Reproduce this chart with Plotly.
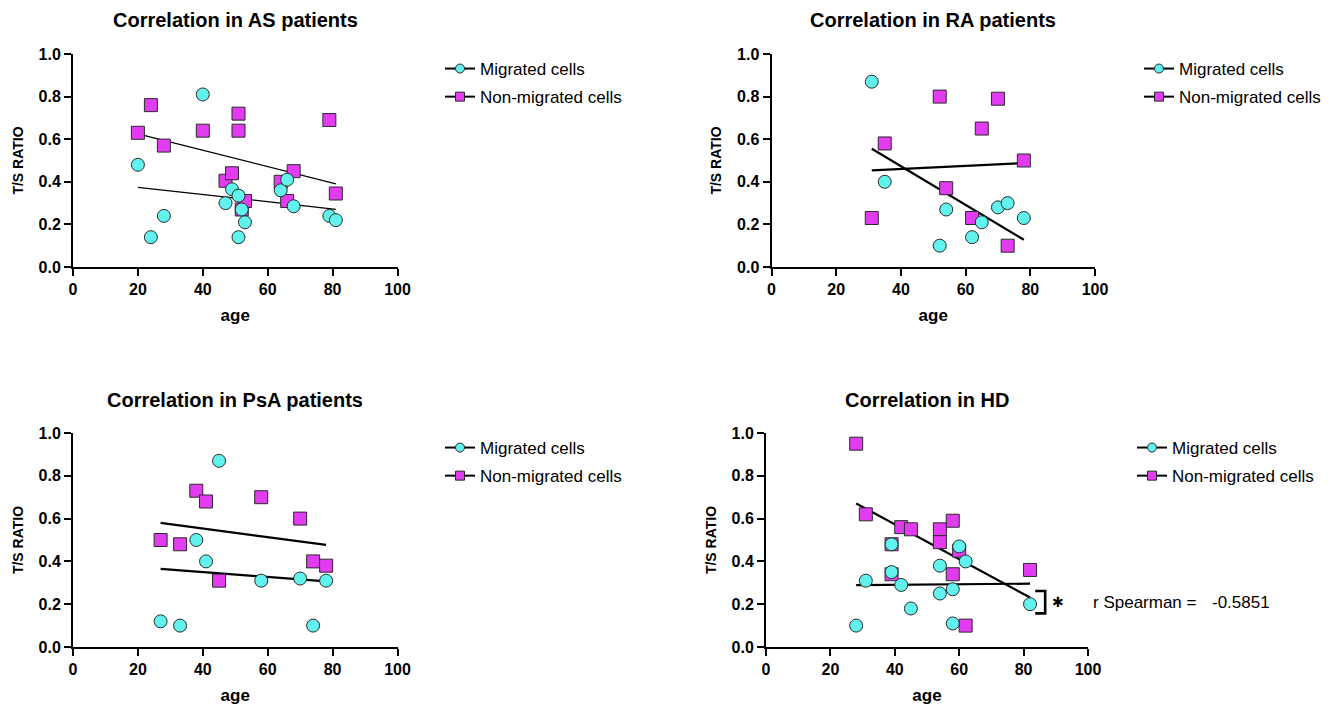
import plotly.graph_objects as go

# ---------------- data ----------------
titles = ["Correlation in AS patients", "Correlation in RA patients",
          "Correlation in PsA patients", "Correlation in HD"]
series_names = ["Migrated cells", "Non-migrated cells"]

as_mig_age = [20, 24, 28, 40, 47, 49, 51, 52, 53, 51, 64, 66, 68, 79, 81]
as_mig_ts = [0.48, 0.14, 0.24, 0.81, 0.30, 0.365, 0.335, 0.27, 0.21, 0.14, 0.36, 0.41, 0.285, 0.24, 0.22]
as_non_age = [20, 24, 28, 40, 47, 49, 51, 51, 52, 53, 64, 66, 68, 79, 81]
as_non_ts = [0.63, 0.76, 0.57, 0.64, 0.405, 0.44, 0.72, 0.64, 0.27, 0.31, 0.40, 0.31, 0.45, 0.69, 0.345]
as_fit_age = [20, 81]
as_mig_fit = [0.374, 0.271]
as_non_fit = [0.625, 0.390]

ra_mig_age = [31, 35, 52, 54, 62, 65, 70, 73, 78]
ra_mig_ts = [0.87, 0.40, 0.10, 0.27, 0.14, 0.21, 0.28, 0.30, 0.23]
ra_non_age = [31, 35, 52, 54, 62, 65, 70, 73, 78]
ra_non_ts = [0.23, 0.58, 0.80, 0.37, 0.23, 0.65, 0.79, 0.10, 0.50]
ra_fit_age = [31, 78]
ra_mig_fit = [0.555, 0.128]
ra_non_fit = [0.454, 0.488]

psa_mig_age = [27, 33, 38, 41, 45, 58, 70, 74, 78]
psa_mig_ts = [0.12, 0.10, 0.50, 0.40, 0.87, 0.31, 0.32, 0.10, 0.31]
psa_non_age = [27, 33, 38, 41, 45, 58, 70, 74, 78]
psa_non_ts = [0.50, 0.48, 0.73, 0.68, 0.31, 0.70, 0.60, 0.40, 0.38]
psa_fit_age = [27, 78]
psa_mig_fit = [0.365, 0.307]
psa_non_fit = [0.580, 0.477]

hd_mig_age = [28, 31, 39, 39, 42, 45, 54, 54, 58, 58, 60, 62, 82]
hd_mig_ts = [0.10, 0.31, 0.48, 0.35, 0.29, 0.18, 0.38, 0.25, 0.27, 0.11, 0.47, 0.40, 0.20]
hd_non_age = [28, 31, 39, 39, 42, 45, 54, 54, 58, 58, 60, 62, 82]
hd_non_ts = [0.95, 0.62, 0.48, 0.34, 0.56, 0.55, 0.55, 0.49, 0.59, 0.34, 0.45, 0.10, 0.36]
hd_fit_age = [28, 82]
hd_mig_fit = [0.289, 0.296]
hd_non_fit = [0.671, 0.231]

spearman_label = "r Spearman ="
spearman_value = "-0.5851"

x_ticks = [0, 20, 40, 60, 80, 100]
y_ticks = [0.0, 0.2, 0.4, 0.6, 0.8, 1.0]

# ---------------- geometry ----------------
# the page body has an 8px default margin; the figure is shifted by it, so it is
# sized to end at the window edge and every target window-pixel position is offset
OFF = 8
W, H = 1339 - OFF, 707 - OFF


def px(xp):
    return (xp - OFF) / W


def py(yp):
    return 1 - (yp - OFF) / H


# ---------------- styling ----------------
CYAN = "#62F2EE"
MAGENTA = "#E23CF0"
EDGE = "#2a2a2a"
FONT = "Arial, Liberation Sans, Helvetica, sans-serif"

panels = [
    dict(mig=(as_mig_age, as_mig_ts), non=(as_non_age, as_non_ts),
         fit=(as_fit_age, as_mig_fit, as_non_fit), lw=1.2),
    dict(mig=(ra_mig_age, ra_mig_ts), non=(ra_non_age, ra_non_ts),
         fit=(ra_fit_age, ra_mig_fit, ra_non_fit), lw=2.2),
    dict(mig=(psa_mig_age, psa_mig_ts), non=(psa_non_age, psa_non_ts),
         fit=(psa_fit_age, psa_mig_fit, psa_non_fit), lw=2.2),
    dict(mig=(hd_mig_age, hd_mig_ts), non=(hd_non_age, hd_non_ts),
         fit=(hd_fit_age, hd_mig_fit, hd_non_fit), lw=2.2),
]

# plot-area window-pixel boxes: (left, right, top, bottom)
boxes = [(73, 397.5, 54, 267), (771.5, 1095, 54, 267),
         (73, 397.5, 433, 647), (766, 1088, 433, 647)]
legend_pos = [(440, 51), (1139, 51), (440, 430), (1132, 430)]
title_y = [20, 20, 400, 400]

fig = go.Figure()
for i, p in enumerate(panels):
    n = "" if i == 0 else str(i + 1)
    xa, ya = "x" + n, "y" + n
    fa, fm, fn = p["fit"]
    fig.add_trace(go.Scatter(x=fa, y=fn, mode="lines", xaxis=xa, yaxis=ya,
                             line=dict(color="black", width=p["lw"]), showlegend=False))
    fig.add_trace(go.Scatter(x=fa, y=fm, mode="lines", xaxis=xa, yaxis=ya,
                             line=dict(color="black", width=p["lw"]), showlegend=False))
    fig.add_trace(go.Scatter(x=p["non"][0], y=p["non"][1], mode="markers", xaxis=xa, yaxis=ya,
                             marker=dict(symbol="square", size=13, color=MAGENTA,
                                         line=dict(color=EDGE, width=1)),
                             showlegend=False))
    fig.add_trace(go.Scatter(x=p["mig"][0], y=p["mig"][1], mode="markers", xaxis=xa, yaxis=ya,
                             marker=dict(symbol="circle", size=13, color=CYAN,
                                         line=dict(color=EDGE, width=1)),
                             showlegend=False))
    leg = "legend" + n
    for name, sym, col in [(series_names[0], "circle", CYAN), (series_names[1], "square", MAGENTA)]:
        fig.add_trace(go.Scatter(x=[None], y=[None], mode="lines+markers", name=name,
                                 xaxis=xa, yaxis=ya, legend=leg, legendgroup=leg + name,
                                 line=dict(color="black", width=2),
                                 marker=dict(symbol=sym, size=9, color=col,
                                             line=dict(color=EDGE, width=1))))

    l, r, t, b = boxes[i]
    axis_common = dict(showline=True, linecolor="black", linewidth=2, ticks="outside",
                       ticklen=7, tickwidth=2, tickcolor="black", showgrid=False,
                       zeroline=False, automargin=False,
                       tickfont=dict(family=FONT, size=16, color="black", weight="bold"))
    fig.layout["xaxis" + n] = dict(domain=[px(l), px(r)], anchor=ya, range=[0, 100],
                                   tickvals=x_ticks,
                                   title=dict(text="age", standoff=12,
                                              font=dict(family=FONT, size=17, color="black", weight="bold")),
                                   **axis_common)
    fig.layout["yaxis" + n] = dict(domain=[py(b), py(t)], anchor=xa, range=[0, 1],
                                   tickvals=y_ticks, tickformat=".1f",
                                   title=dict(text="T/S RATIO", standoff=12,
                                              font=dict(family=FONT, size=14, color="black", weight="bold")),
                                   **axis_common)
    lx, ly = legend_pos[i]
    fig.layout[leg] = dict(x=px(lx), y=py(ly), xanchor="left", yanchor="top",
                           bgcolor="rgba(0,0,0,0)", tracegroupgap=3,
                           font=dict(family=FONT, size=17, color="black"))
    fig.add_annotation(text="<b>" + titles[i] + "</b>", xref="paper", yref="paper",
                       x=px((l + r) / 2), y=py(title_y[i]),
                       xanchor="center", yanchor="middle", showarrow=False,
                       font=dict(family=FONT, size=20, color="black"))

# significance bracket and Spearman text (HD panel)
fig.add_shape(type="path", xref="x4", yref="y4",
              path="M 83.6 0.262 L 86.7 0.262 L 86.7 0.157 L 83.6 0.157",
              line=dict(color="black", width=2.6))
fig.add_annotation(text="✱", xref="x4", yref="y4", x=90.6, y=0.209, showarrow=False,
                   xanchor="center", yanchor="middle",
                   font=dict(family="DejaVu Sans", size=14, color="black"))
fig.add_annotation(text=spearman_label, xref="paper", yref="paper", x=px(1091), y=py(602),
                   xanchor="left", yanchor="middle", showarrow=False,
                   font=dict(family=FONT, size=17, color="black"))
fig.add_annotation(text=spearman_value, xref="paper", yref="paper", x=px(1210), y=py(602),
                   xanchor="left", yanchor="middle", showarrow=False,
                   font=dict(family=FONT, size=17, color="black"))

fig.update_layout(width=W, height=H, margin=dict(l=0, r=0, t=0, b=0, autoexpand=False),
                  plot_bgcolor="white", paper_bgcolor="white",
                  font=dict(family=FONT, color="black"))
fig.write_html("out.html")
